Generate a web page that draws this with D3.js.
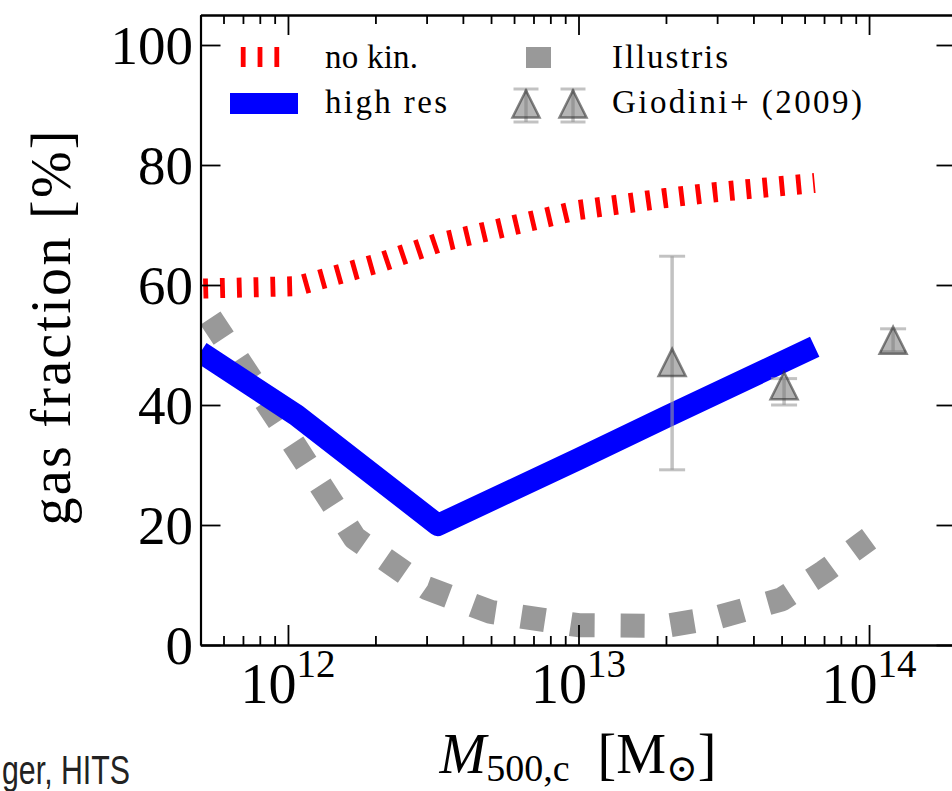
<!DOCTYPE html>
<html>
<head>
<meta charset="utf-8">
<script src="https://cdn.jsdelivr.net/npm/d3@7"></script>
<style>
body { margin: 0; background: #fff; }
text { font-family: "Liberation Serif", "DejaVu Serif", serif; fill: #000; }
</style>
</head>
<body>
<div id="chart"></div>
<script>
// halo mass M500,c [Msun] vs gas fraction [%]
const noKinMass = [5e11, 1.07e12, 2e12, 3.28e12, 6e12, 1e13, 2e13, 3e13, 6.5e13];
const noKinGas  = [59.4, 59.8, 63.5, 67, 70, 72.5, 74.5, 75.5, 77];

const highResMass = [5e11, 1.07e12, 3.28e12, 1e13, 2e13, 6.5e13];
const highResGas  = [48.8, 38.3, 20, 31, 38, 49.7];

const illustrisMass = [5e11, 1e12, 1.7e12, 3e12, 5e12, 1e13, 2e13, 3e13, 5e13, 7e13, 1e14];
const illustrisGas  = [57, 35, 17.8, 9.5, 5.5, 3.3, 3.2, 4.6, 7.6, 12.2, 17.7];

// Giodini+ (2009) points with errors
const giodiniMass    = [2.1e13, 5.1e13, 1.21e14];
const giodiniGas     = [47.1, 43.2, 50.8];
const giodiniErrLow  = [17.9, 3.2, 1.9];
const giodiniErrHigh = [17.7, 1.2, 1.9];

const yTicks = [0, 20, 40, 60, 80, 100];
const xMajor = [1e12, 1e13, 1e14];
const xMajorExp = ["12", "13", "14"];

const width = 952, height = 791;

const x = d3.scaleLog().domain([5e11, 2e14]).range([200.5, 956.5]);
const y = d3.scaleLinear().domain([0, 105]).range([645, 15]);

const xMinor = x.ticks().filter(v => !xMajor.some(m => Math.abs(m - v) / m < 1e-6));

const svg = d3.select("#chart")
  .append("svg")
  .attr("width", width)
  .attr("height", height);

svg.append("rect").attr("width", width).attr("height", height).attr("fill", "#fff");

svg.append("clipPath").attr("id", "plotclip")
  .append("rect")
  .attr("x", x.range()[0]).attr("y", y.range()[1])
  .attr("width", x.range()[1] - x.range()[0])
  .attr("height", y.range()[0] - y.range()[1]);

const plot = svg.append("g").attr("clip-path", "url(#plotclip)");

const line = d3.line().x(d => x(d[0])).y(d => y(d[1]));

// Illustris - thick gray squares
plot.append("path")
  .datum(d3.zip(illustrisMass, illustrisGas))
  .attr("d", line)
  .attr("fill", "none")
  .attr("stroke", "#999")
  .attr("stroke-width", 24)
  .attr("stroke-dasharray", "24,26")
  .attr("stroke-dashoffset", 32)
  .attr("stroke-linejoin", "round");

// no kin. - red short dashes
plot.append("path")
  .datum(d3.zip(noKinMass, noKinGas))
  .attr("d", line)
  .attr("fill", "none")
  .attr("stroke", "#ff0000")
  .attr("stroke-width", 20)
  .attr("stroke-dasharray", "4.8,12")
  .attr("stroke-dashoffset", 14);

// high res - blue
plot.append("path")
  .datum(d3.zip(highResMass, highResGas))
  .attr("d", line)
  .attr("fill", "none")
  .attr("stroke", "#0000ff")
  .attr("stroke-width", 22)
  .attr("stroke-linejoin", "round");

// Giodini errorbars and triangles
const tri = "M0,-13.5L13.5,13.5L-13.5,13.5Z";
const gio = plot.append("g").selectAll("g")
  .data(d3.range(giodiniMass.length))
  .join("g")
  .attr("transform", i => `translate(${x(giodiniMass[i])},0)`);

gio.append("line")
  .attr("y1", i => y(giodiniGas[i] - giodiniErrLow[i]))
  .attr("y2", i => y(giodiniGas[i] + giodiniErrHigh[i]))
  .attr("stroke", "#999").attr("stroke-opacity", 0.6).attr("stroke-width", 3.5);
gio.selectAll(".cap")
  .data(i => [giodiniGas[i] - giodiniErrLow[i], giodiniGas[i] + giodiniErrHigh[i]])
  .join("line")
  .attr("x1", -13).attr("x2", 13)
  .attr("y1", d => y(d)).attr("y2", d => y(d))
  .attr("stroke", "#999").attr("stroke-opacity", 0.6).attr("stroke-width", 3);
gio.append("path")
  .attr("d", tri)
  .attr("transform", i => `translate(0,${y(giodiniGas[i])})`)
  .attr("fill", "#777").attr("fill-opacity", 0.55)
  .attr("stroke", "#333").attr("stroke-opacity", 0.6).attr("stroke-width", 2.5);

// axes, ticks inward on all sides
function styleAxis(g) {
  g.selectAll(".tick line").attr("stroke-width", 1.8);
  g.select(".domain").attr("stroke-width", 2.2);
  g.selectAll(".tick text").remove();
}

svg.append("g").attr("transform", `translate(0,${y(0)})`)
  .call(d3.axisBottom(x).tickValues(xMinor).tickSize(-9).tickSizeOuter(0).tickFormat(""))
  .call(styleAxis);
svg.append("g").attr("transform", `translate(0,${y(0)})`)
  .call(d3.axisBottom(x).tickValues(xMajor).tickSize(-20).tickSizeOuter(0).tickFormat(""))
  .call(styleAxis);

svg.append("g").attr("transform", `translate(0,${y(105)})`)
  .call(d3.axisTop(x).tickValues(xMinor).tickSize(-9).tickSizeOuter(0).tickFormat(""))
  .call(styleAxis);
svg.append("g").attr("transform", `translate(0,${y(105)})`)
  .call(d3.axisTop(x).tickValues(xMajor).tickSize(-20).tickSizeOuter(0).tickFormat(""))
  .call(styleAxis);

svg.append("g").attr("transform", `translate(${x.range()[0]},0)`)
  .call(d3.axisLeft(y).tickValues(yTicks).tickSize(-20).tickSizeOuter(0))
  .call(styleAxis);
svg.append("g").attr("transform", `translate(${x.range()[1]},0)`)
  .call(d3.axisRight(y).tickValues(yTicks).tickSize(-20).tickSizeOuter(0))
  .call(styleAxis);

// tick labels
svg.append("g").selectAll("text")
  .data(yTicks)
  .join("text")
  .attr("x", 193)
  .attr("y", d => y(d) + 19)
  .attr("text-anchor", "end")
  .attr("font-size", 55)
  .text(d => d);

const xl = svg.append("g").selectAll("text")
  .data(xMajor)
  .join("text")
  .attr("x", d => x(d))
  .attr("y", 703)
  .attr("text-anchor", "middle")
  .attr("font-size", 56);
xl.append("tspan").text("10");
xl.append("tspan").attr("font-size", 39).attr("dy", -26).text((d, i) => xMajorExp[i]);

// axis titles
svg.append("text")
  .attr("transform", "translate(70,328) rotate(-90)")
  .attr("text-anchor", "middle")
  .attr("font-size", 56)
  .attr("textLength", 395)
  .attr("lengthAdjust", "spacing")
  .text("gas fraction [%]");

const xt = svg.append("text")
  .attr("x", 578).attr("y", 773)
  .attr("text-anchor", "middle")
  .attr("font-size", 56);
xt.append("tspan").attr("font-style", "italic").text("M");
xt.append("tspan").attr("font-size", 38).attr("dy", 8).text("500,c");
xt.append("tspan").attr("dy", -8).text("\u2002[M");
xt.append("tspan").attr("font-size", 38).attr("dy", 8).text("\u2299");
xt.append("tspan").attr("dy", -8).text("]");

// legend
const leg = svg.append("g");
leg.append("line").attr("x1", 230).attr("x2", 282).attr("y1", 57).attr("y2", 57)
  .attr("stroke", "#ff0000").attr("stroke-width", 20)
  .attr("stroke-dasharray", "4.8,12").attr("stroke-dashoffset", 6);
leg.append("line").attr("x1", 230).attr("x2", 298).attr("y1", 103.5).attr("y2", 103.5)
  .attr("stroke", "#0000ff").attr("stroke-width", 21);
leg.append("line").attr("x1", 526).attr("x2", 551).attr("y1", 57.5).attr("y2", 57.5)
  .attr("stroke", "#999").attr("stroke-width", 21);
[526, 573].forEach(cx => {
  const h = leg.append("g").attr("transform", `translate(${cx},104)`);
  h.append("line").attr("y1", -15).attr("y2", 18)
    .attr("stroke", "#999").attr("stroke-opacity", 0.6).attr("stroke-width", 3.5);
  [-15, 18].forEach(cy => h.append("line").attr("x1", -12.5).attr("x2", 12.5)
    .attr("y1", cy).attr("y2", cy)
    .attr("stroke", "#999").attr("stroke-opacity", 0.6).attr("stroke-width", 3));
  h.append("path").attr("d", tri)
    .attr("fill", "#777").attr("fill-opacity", 0.55)
    .attr("stroke", "#333").attr("stroke-opacity", 0.6).attr("stroke-width", 2.5);
});
const legText = [
  ["no kin.", 325, 68, 93],
  ["high res", 325, 113, 122],
  ["Illustris", 612, 68, 116],
  ["Giodini+ (2009)", 612, 113, 250]
];
leg.selectAll("text")
  .data(legText)
  .join("text")
  .attr("x", d => d[1]).attr("y", d => d[2])
  .attr("font-size", 33)
  .attr("textLength", d => d[3])
  .attr("lengthAdjust", "spacing")
  .text(d => d[0]);

// credit line, bottom left
svg.append("text")
  .attr("x", 2).attr("y", 784)
  .style("font-family", "'Liberation Sans', Arial, sans-serif")
  .style("fill", "#222")
  .attr("font-size", 40)
  .attr("textLength", 128)
  .attr("lengthAdjust", "spacingAndGlyphs")
  .text("ger, HITS");
</script>
</body>
</html>
